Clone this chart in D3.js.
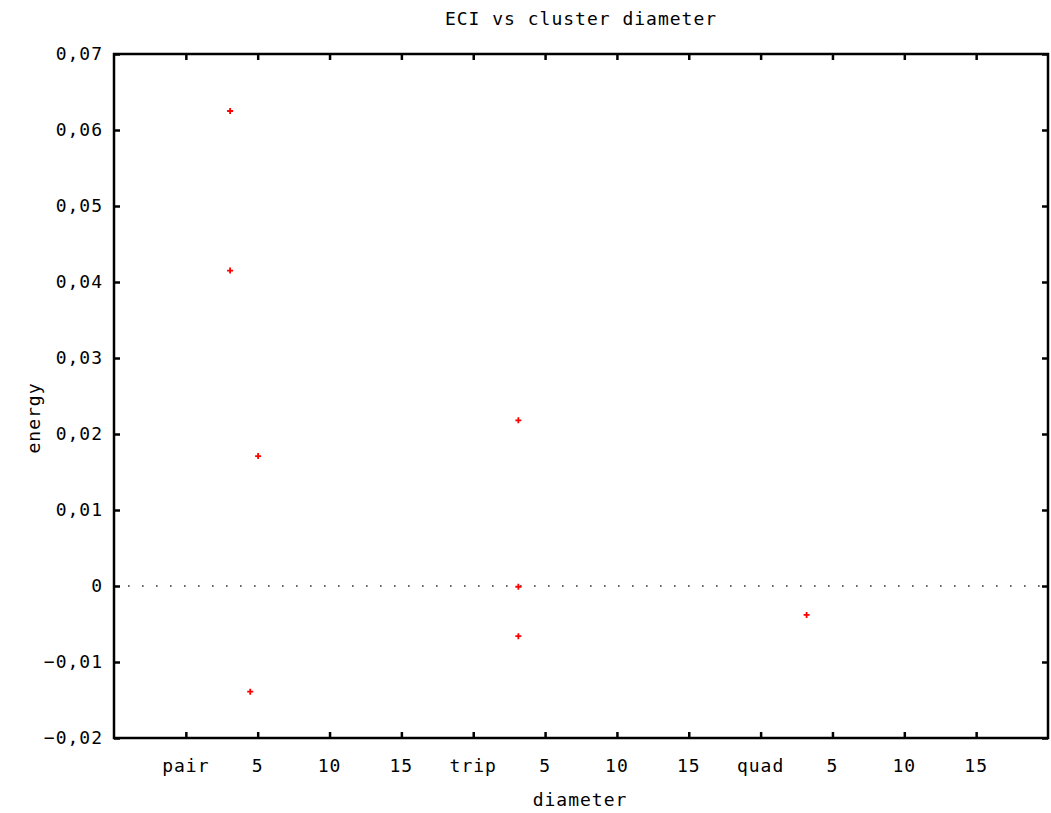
<!DOCTYPE html>
<html>
<head>
<meta charset="utf-8">
<script src="https://cdn.jsdelivr.net/npm/d3@7"></script>
<style>
  body { margin: 0; background: #fff; }
  svg { display: block; }
  text { font-family: "DejaVu Sans Mono", monospace; font-size: 18px; fill: #000; letter-spacing: 1px; }
</style>
</head>
<body>
<svg id="chart" width="1051" height="813"></svg>
<script>
// cluster groups and where each one starts on the x axis
var groups = ["pair", "trip", "quad"];
var groupOffset = [0, 20, 40];

// x ticks: group names at offsets, diameters in between
var xTickValues = [0, 5, 10, 15, 20, 25, 30, 35, 40, 45, 50, 55];
var xTickLabels = ["pair", "5", "10", "15", "trip", "5", "10", "15", "quad", "5", "10", "15"];
var yTickValues = [-0.02, -0.01, 0, 0.01, 0.02, 0.03, 0.04, 0.05, 0.06, 0.07];

// ECI points: group, diameter, energy
var pointGroup = ["pair", "pair", "pair", "pair", "trip", "trip", "trip", "quad"];
var pointDiameter = [3.08, 3.08, 5.03, 4.48, 3.14, 3.14, 3.14, 3.2];
var pointEnergy = [0.0625, 0.0415, 0.0171, -0.0139, 0.0218, -0.0001, -0.0066, -0.0038];

var svg = d3.select("#chart");
var plotLeft = 114, plotRight = 1048, plotTop = 54, plotBottom = 738;

var x = d3.scaleLinear().domain([-5, 60]).range([plotLeft, plotRight]);
var y = d3.scaleLinear().domain([-0.02, 0.07]).range([plotBottom, plotTop]);

// zero line, dotted
svg.append("line")
  .attr("x1", plotLeft).attr("x2", plotRight)
  .attr("y1", y(0)).attr("y2", y(0))
  .attr("stroke", "#333")
  .attr("stroke-width", 1.6)
  .attr("stroke-dasharray", "1.6,12.4");

// axes with inward ticks, mirrored
var fmt = function(d) { return d === 0 ? "0" : d3.format(".2f")(d).replace(".", ","); };

var yLeft = svg.append("g").attr("transform", "translate(" + plotLeft + ",0)")
  .call(d3.axisRight(y).tickValues(yTickValues).tickSize(6).tickFormat(""));
var yRight = svg.append("g").attr("transform", "translate(" + plotRight + ",0)")
  .call(d3.axisLeft(y).tickValues(yTickValues).tickSize(6).tickFormat(""));
var xBottom = svg.append("g").attr("transform", "translate(0," + plotBottom + ")")
  .call(d3.axisTop(x).tickValues(xTickValues).tickSize(6).tickFormat(""));
var xTop = svg.append("g").attr("transform", "translate(0," + plotTop + ")")
  .call(d3.axisBottom(x).tickValues(xTickValues).tickSize(6).tickFormat(""));

[yLeft, yRight, xBottom, xTop].forEach(function(g) {
  g.select(".domain").remove();
  g.selectAll(".tick line").attr("stroke", "#000").attr("stroke-width", 2.5);
});

// frame
svg.append("rect")
  .attr("x", plotLeft).attr("y", plotTop)
  .attr("width", plotRight - plotLeft).attr("height", plotBottom - plotTop)
  .attr("fill", "none").attr("stroke", "#000").attr("stroke-width", 2.5);

// y tick labels
svg.append("g").selectAll("text")
  .data(yTickValues)
  .enter().append("text")
  .attr("x", 103)
  .attr("y", function(d) { return y(d) + 6; })
  .attr("text-anchor", "end")
  .text(fmt);

// x tick labels
svg.append("g").selectAll("text")
  .data(xTickValues)
  .enter().append("text")
  .attr("x", function(d) { return x(d); })
  .attr("y", 772)
  .attr("text-anchor", "middle")
  .text(function(d, i) { return xTickLabels[i]; });

// titles
svg.append("text").attr("x", 581).attr("y", 25).attr("text-anchor", "middle").text("ECI vs cluster diameter");
svg.append("text").attr("x", 580).attr("y", 806).attr("text-anchor", "middle").text("diameter");
svg.append("text")
  .attr("transform", "translate(40,418) rotate(-90)")
  .attr("text-anchor", "middle")
  .text("energy");

// points as small red crosses
var pts = pointEnergy.map(function(e, i) {
  return { x: groupOffset[groups.indexOf(pointGroup[i])] + pointDiameter[i], y: e };
});
svg.append("g").selectAll("path")
  .data(pts)
  .enter().append("path")
  .attr("d", function(d) {
    var px = x(d.x), py = y(d.y), s = 3;
    return "M" + (px - s) + "," + py + "H" + (px + s) + "M" + px + "," + (py - s) + "V" + (py + s);
  })
  .attr("stroke", "#ff0000")
  .attr("stroke-width", 1.8)
  .attr("fill", "none");
</script>
</body>
</html>
